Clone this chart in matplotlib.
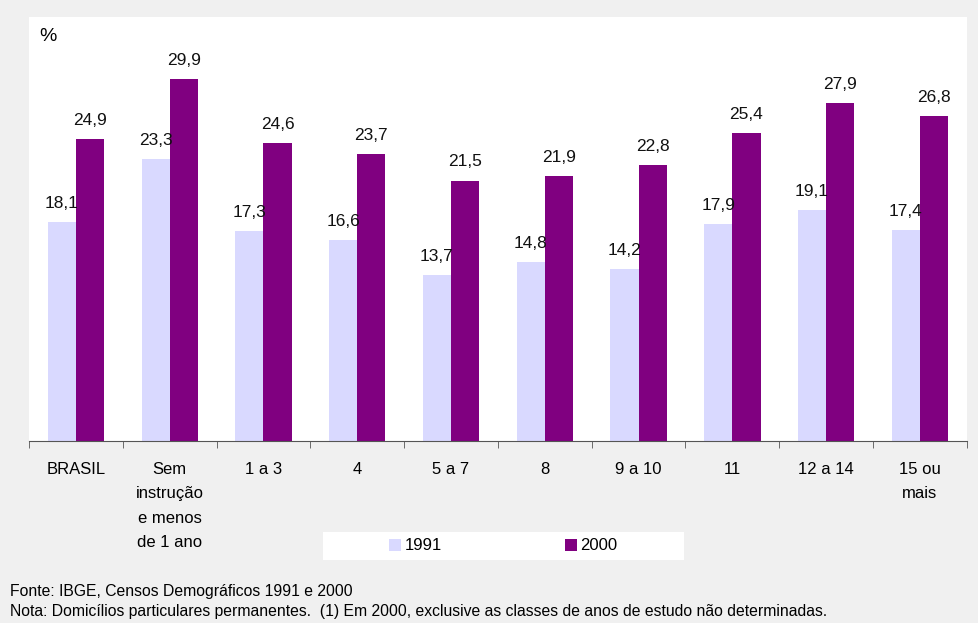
import numpy as np
import matplotlib.pyplot as plt
from matplotlib.patches import Rectangle

plt.rcParams['font.family'] = ['Liberation Sans', 'DejaVu Sans']

categorias = ["BRASIL", "Sem\ninstrução\ne menos\nde 1 ano", "1 a 3", "4", "5 a 7",
              "8", "9 a 10", "11", "12 a 14", "15 ou\nmais"]
v1991 = [18.1, 23.3, 17.3, 16.6, 13.7, 14.8, 14.2, 17.9, 19.1, 17.4]
v2000 = [24.9, 29.9, 24.6, 23.7, 21.5, 21.9, 22.8, 25.4, 27.9, 26.8]
anos = ["1991", "2000"]
cores = ["#D9D9FF", "#800080"]

fig = plt.figure(figsize=(9.79, 6.23), dpi=100, facecolor="#F0F0F0")
ax = fig.add_axes([0.0296, 0.2921, 0.958, 0.6806])
ax.set_facecolor("white")

x = np.arange(len(categorias))
w = 0.3
b1 = ax.bar(x - w/2, v1991, w, color=cores[0], label=anos[0])
b2 = ax.bar(x + w/2, v2000, w, color=cores[1], label=anos[1])

for bars, vals in [(b1, v1991), (b2, v2000)]:
    for b, v in zip(bars, vals):
        ax.annotate(("%.1f" % v).replace(".", ","), (b.get_x() + b.get_width()/2, v),
                    xytext=(0, 8), textcoords="offset points",
                    ha="center", va="bottom", fontsize=12.5, color="#111111")

ax.set_xlim(-0.5, len(categorias) - 0.5)
ax.set_ylim(0, 35)
ax.set_yticks([])
for s in ["left", "right", "top"]:
    ax.spines[s].set_visible(False)
ax.spines["bottom"].set_color("#555555")
ax.set_xticks(x)
ax.set_xticklabels(categorias, fontsize=12, linespacing=1.78, va="top")
ax.tick_params(axis="x", which="major", length=0, pad=15)
ax.set_xticks(np.arange(-0.5, len(categorias)), minor=True)
ax.tick_params(axis="x", which="minor", length=5, color="#555555")

ax.text(0.011, 0.975, "%", transform=ax.transAxes, fontsize=14, ha="left", va="top")

# caixa da legenda
fig.patches.append(Rectangle((0.330, 0.101), 0.369, 0.045, transform=fig.transFigure,
                             facecolor="white", edgecolor="none", zorder=0))
fig.legend(handles=[b1, b2], labels=anos, loc="center", bbox_to_anchor=(0.5143, 0.1236),
           ncol=2, frameon=False, fontsize=12, handlelength=0.72, handleheight=0.72,
           handletextpad=0.2, columnspacing=7.4)

fig.text(0.010, 0.050, "Fonte: IBGE, Censos Demográficos 1991 e 2000", fontsize=11.3, va="center")
fig.text(0.010, 0.018, "Nota: Domicílios particulares permanentes.  (1) Em 2000, exclusive as classes de anos de estudo não determinadas.",
         fontsize=11.3, va="center")

fig.savefig("out.png", dpi=100, facecolor=fig.get_facecolor())
